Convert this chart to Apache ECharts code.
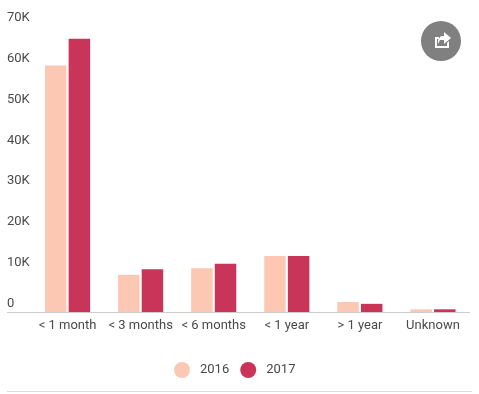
<!DOCTYPE html>
<html><head><meta charset="utf-8">
<style>html,body{margin:0;padding:0;background:#fff}#c{width:479px;height:394px}</style>
<script src="https://cdn.jsdelivr.net/npm/echarts@6/dist/echarts.min.js"></script>
</head><body><div id="c"></div>
<script>
const categories = ['< 1 month','< 3 months','< 6 months','< 1 year','> 1 year','Unknown'];
const values2016 = [60400, 9100, 10700, 13700, 2450, 660];
const values2017 = [67000, 10500, 11800, 13700, 2000, 660];
const chart = echarts.init(document.getElementById('c'), null, {renderer:'canvas'});
chart.setOption({
  animation:false,
  backgroundColor:'#fff',
  textStyle:{fontFamily:'Roboto'},
  grid:{left:31,right:9.5,top:26.4,bottom:82},
  legend:{left:169,top:357,itemWidth:16,itemHeight:16,itemGap:11,icon:'circle',
    textStyle:{fontFamily:'Roboto',fontSize:13,color:'#4a4a4a',padding:[0,0,0,5]},
    data:['2016','2017']},
  xAxis:{type:'category',data:categories,
    axisLine:{lineStyle:{color:'#ccc',width:1}},axisTick:{show:false},
    axisLabel:{interval:0,fontFamily:'Roboto',fontSize:13,color:'#4a4a4a',margin:7}},
  yAxis:{type:'value',min:0,max:70000,interval:10000,
    axisLine:{show:false},axisTick:{show:false},splitLine:{show:false},
    axisLabel:{align:'left',verticalAlign:'bottom',margin:24,padding:[0,0,2,0],fontFamily:'Roboto',fontSize:13,color:'#4a4a4a',
      formatter:v=>v===0?'0':(v/1000)+'K'}},
  series:[
    {name:'2016',type:'bar',data:values2016,barWidth:21.5,barGap:'10%',itemStyle:{color:'#FCC8B4'}},
    {name:'2017',type:'bar',data:values2017,barWidth:21.5,itemStyle:{color:'#C83558'}}
  ],
  graphic:[
    {type:'line',shape:{x1:7,y1:312.5,x2:31,y2:312.5},style:{stroke:'#ccc',lineWidth:1},silent:true},
    {type:'line',shape:{x1:7,y1:391.5,x2:472,y2:391.5},style:{stroke:'#ddd',lineWidth:1},silent:true},
    {type:'circle',shape:{cx:441,cy:41,r:20},style:{fill:'#808080'},silent:true},
    {type:'polygon',shape:{points:[[435,37],[439,37],[439,39],[437,39],[437,46],[447,46],[447,43],[449,41],[449,48],[435,48]]},style:{fill:'#fff'},silent:true},
    {type:'polygon',shape:{points:[[444,32],[451,38],[444,44],[444,40],[440,40],[438,44],[438,40],[441,36],[444,36]]},style:{fill:'#fff'},silent:true}
  ]
});
</script></body></html>
